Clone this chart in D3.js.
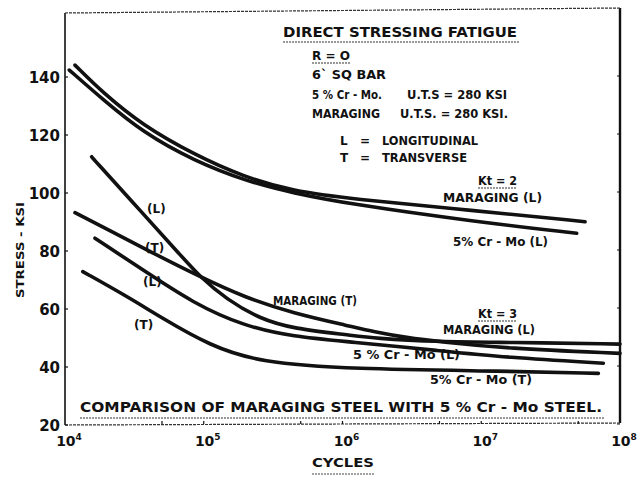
<!DOCTYPE html>
<html><head><meta charset="utf-8">
<script src="https://cdn.jsdelivr.net/npm/d3@7"></script>
<style>
body{margin:0;background:#fff}
svg{display:block}
text{font-family:"DejaVu Sans","Liberation Sans",Arial,sans-serif;font-weight:bold;fill:#111}
</style>
</head><body>
<svg id="c" width="637" height="477"></svg>
<script>
// ---- data ----
const yTicks = [20, 40, 60, 80, 100, 120, 140];
const xTickExps = [4, 5, 6, 7, 8];
const minorTicks = [5e4, 1e5, 5e5, 1e6, 5e6, 1e7, 5e7];

// [cycles, stress ksi]
const maragingKt2L = [[11800,144.1],[18880,134.4],[36640,123.2],[84140,113.4],[192800,105.6],[441600,100.6],[1.132e6,98.0],[8.71e6,94.0],[5.6e7,90.1]];
const crmoKt2L     = [[10740,142.4],[18880,132.1],[36640,120.8],[84140,111.2],[204200,104.0],[439500,100.0],[1.132e6,96.2],[8.71e6,90.2],[4.875e7,86.1]];
const maragingKt3L = [[15560,112.5],[15600,112.4],[36640,92.8],[70000,77.9],[93970,71.1],[146200,63.3],[254100,56.6],[441600,53.2],[1.132e6,51.0],[1.667e6,49.9],[5.047e6,48.7],[1.524e7,48.5],[1e8,47.9]];
const maragingKt3T = [[11800,93.2],[21090,87.0],[41020,79.8],[93970,71.1],[192800,64.2],[441600,58.5],[1.132e6,54.1],[1.667e6,52.2],[2.904e6,50.1],[5.047e6,48.7],[1.524e7,46.4],[1e8,44.7]];
const crmoKt3L     = [[16440,84.4],[36640,73.4],[84140,62.0],[192800,54.2],[441600,50.4],[1.132e6,48.7],[5.047e6,45.6],[1.524e7,43.3],[7.586e7,41.3]];
const crmoKt3T     = [[13430,72.9],[27860,64.4],[48420,57.3],[110900,47.3],[254100,41.6],[1.132e6,39.3],[1.524e7,38.6],[6.982e7,37.8]];

const curves = [maragingKt2L, crmoKt2L, maragingKt3L, maragingKt3T, crmoKt3L, crmoKt3T];

// ---- layout ----
const L = 65, R = 620, T = 11, B = 425;
const svg = d3.select("#c");
const x = d3.scaleLog().domain([1e4, 1e8]).range([L, R]);
const y = d3.scaleLinear().domain([20, 140]).range([B, 77]);

// frame
svg.append("line").attr("x1", L).attr("x2", L).attr("y1", T + 2).attr("y2", B).attr("stroke", "#111").attr("stroke-width", 1.6);
svg.append("line").attr("x1", R).attr("x2", R).attr("y1", T - 3).attr("y2", B - 2).attr("stroke", "#111").attr("stroke-width", 2.4);
svg.append("line").attr("x1", L).attr("x2", R).attr("y1", T + 2).attr("y2", T - 3).attr("stroke", "#333").attr("stroke-width", 1.2).attr("stroke-dasharray", "3 1");
svg.append("line").attr("x1", L).attr("x2", R).attr("y1", B).attr("y2", B - 2).attr("stroke", "#333").attr("stroke-width", 1.2).attr("stroke-dasharray", "3 1");

// y ticks & labels
yTicks.forEach(v => {
  svg.append("line").attr("x1", L).attr("x2", L + 3).attr("y1", y(v)).attr("y2", y(v)).attr("stroke", "#111").attr("stroke-width", 1.2);
  svg.append("text").attr("x", 60).attr("y", y(v) + 6).attr("text-anchor", "end").attr("font-size", 15).text(v);
});
yTicks.forEach(v => {
  svg.append("line").attr("x1", R - 3).attr("x2", R).attr("y1", y(v) - 1).attr("y2", y(v) - 1).attr("stroke", "#111").attr("stroke-width", 1);
});
// bottom minor ticks
minorTicks.forEach(c => {
  svg.append("line").attr("x1", x(c)).attr("x2", x(c)).attr("y1", B - 1).attr("y2", B - 4).attr("stroke", "#111").attr("stroke-width", 1.2);
});
// x labels
xTickExps.forEach(e => {
  const t = svg.append("text").attr("x", x(Math.pow(10, e)) + 4).attr("y", 446).attr("text-anchor", "middle").attr("font-size", 14);
  t.append("tspan").text("10");
  t.append("tspan").attr("dy", -6).attr("font-size", 9).text(e);
});

// axis titles
svg.append("text").attr("x", 343).attr("y", 467).attr("text-anchor", "middle").attr("font-size", 13).attr("textLength", 62).attr("lengthAdjust", "spacingAndGlyphs").text("CYCLES");
svg.append("line").attr("x1", 312).attr("x2", 374).attr("y1", 474).attr("y2", 474).attr("stroke", "#444").attr("stroke-width", 1).attr("stroke-dasharray", "2 1");
svg.append("text").attr("transform", "translate(24,250) rotate(-90)").attr("text-anchor", "middle").attr("font-size", 10).attr("textLength", 96).attr("lengthAdjust", "spacingAndGlyphs").text("STRESS - KSI");

// curves
const line = d3.line().x(d => x(d[0])).y(d => y(d[1])).curve(d3.curveBasis);
svg.selectAll("path.curve").data(curves).join("path").attr("class", "curve")
  .attr("d", line).attr("fill", "none").attr("stroke", "#111").attr("stroke-width", 3.6).attr("stroke-linecap", "round");

// annotations
const notes = [
  {t: "DIRECT STRESSING FATIGUE", x: 283, y: 37, s: 14, w: 234},
  {t: "R = O", x: 312, y: 60, s: 12, w: 38},
  {t: "6` SQ BAR", x: 312, y: 79, s: 12, w: 74},
  {t: "5 % Cr - Mo.", x: 312, y: 99, s: 12, w: 70},
  {t: "U.T.S = 280  KSI", x: 407, y: 99, s: 12, w: 100},
  {t: "MARAGING", x: 312, y: 118, s: 12, w: 68},
  {t: "U.T.S. = 280  KSI.", x: 400, y: 118, s: 12, w: 108},
  {t: "L", x: 340, y: 145, s: 12},
  {t: "=", x: 360, y: 145, s: 12},
  {t: "LONGITUDINAL", x: 382, y: 145, s: 12, w: 96},
  {t: "T", x: 340, y: 162, s: 12},
  {t: "=", x: 360, y: 162, s: 12},
  {t: "TRANSVERSE", x: 382, y: 162, s: 12, w: 85},
  {t: "Kt = 2", x: 478, y: 185, s: 12, w: 39},
  {t: "MARAGING  (L)", x: 443, y: 202, s: 12, w: 99},
  {t: "5% Cr - Mo (L)", x: 453, y: 246, s: 12, w: 95},
  {t: "MARAGING (T)", x: 273, y: 305, s: 12, w: 84},
  {t: "Kt = 3", x: 478, y: 318, s: 12, w: 39},
  {t: "MARAGING (L)", x: 443, y: 334, s: 12, w: 92},
  {t: "5 % Cr - Mo (L)", x: 353, y: 359, s: 12, w: 107},
  {t: "5% Cr - Mo (T)", x: 430, y: 384, s: 12, w: 102},
  {t: "(L)", x: 147, y: 213, s: 12},
  {t: "(T)", x: 145, y: 252, s: 12},
  {t: "(L)", x: 143, y: 286, s: 12},
  {t: "(T)", x: 134, y: 329, s: 12},
  {t: "COMPARISON OF MARAGING STEEL WITH 5 % Cr - Mo STEEL.", x: 80, y: 412, s: 14, w: 522}
];
notes.forEach(n => {
  const t = svg.append("text").attr("x", n.x).attr("y", n.y).attr("font-size", n.s).text(n.t);
  if (n.w) t.attr("textLength", n.w).attr("lengthAdjust", "spacingAndGlyphs");
});
// underlines
const underlines = [[283, 520, 42], [312, 350, 63], [478, 517, 188], [478, 517, 321], [80, 605, 418]];
underlines.forEach(u => {
  svg.append("line").attr("x1", u[0]).attr("x2", u[1]).attr("y1", u[2]).attr("y2", u[2])
    .attr("stroke", "#333").attr("stroke-width", 1.1).attr("stroke-dasharray", "2 1");
});
</script>
</body></html>
